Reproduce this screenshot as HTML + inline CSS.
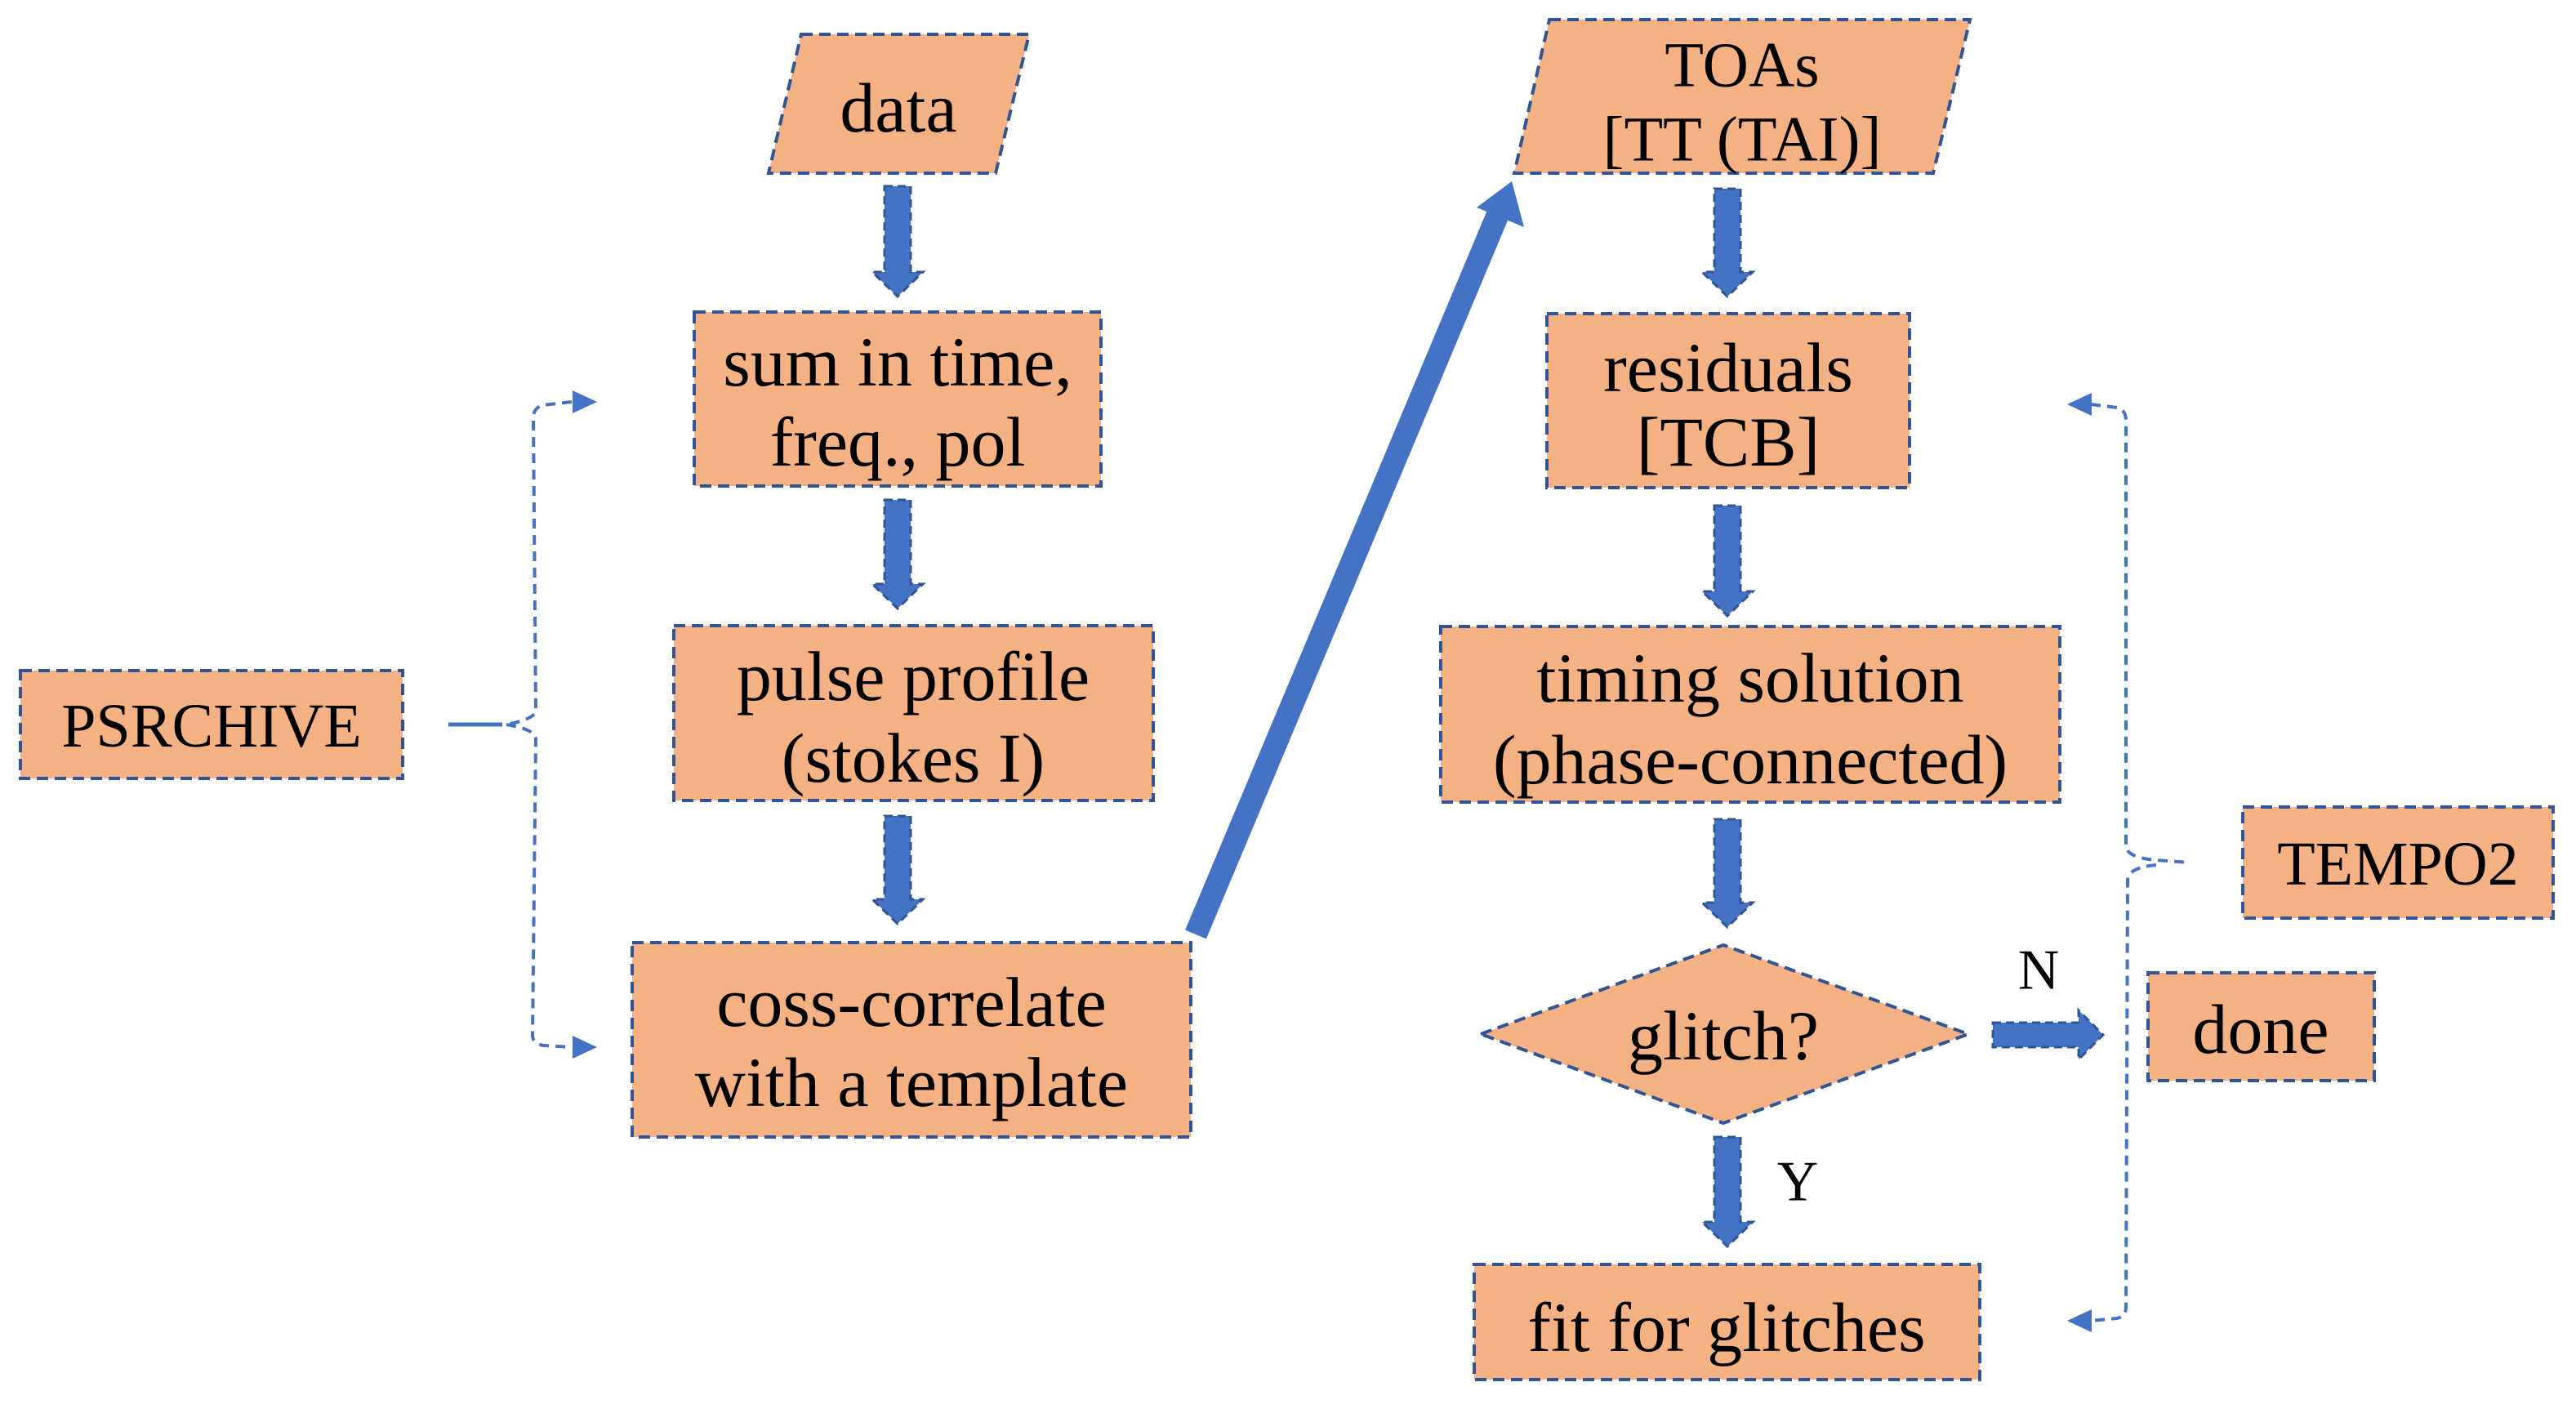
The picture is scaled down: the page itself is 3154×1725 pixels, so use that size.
<!DOCTYPE html>
<html><head><meta charset="utf-8"><style>
html,body{margin:0;padding:0;background:#fff;}
svg{display:block;}
text{font-family:"Liberation Serif","DejaVu Serif",serif;fill:#000;}
</style></head><body>
<svg width="3154" height="1725" viewBox="0 0 3154 1725" xmlns="http://www.w3.org/2000/svg">
<g fill="#F4B183" stroke="#2F5597" stroke-width="4" stroke-dasharray="14,8">
<polygon points="981,42 1260,42 1219,212 941,212"/>
<rect x="850" y="382" width="498" height="213"/>
<rect x="825" y="766" width="587" height="214"/>
<rect x="774" y="1154" width="684" height="238"/>
<rect x="25" y="821" width="468" height="132"/>
<polygon points="1897,24 2412,24 2367,212 1854,212"/>
<rect x="1894" y="384" width="444" height="213"/>
<rect x="1764" y="767" width="758" height="215"/>
<polygon points="1813,1266 2110,1157 2410,1266 2110,1375"/>
<rect x="2630" y="1191" width="277" height="132"/>
<rect x="1805" y="1548" width="619" height="141"/>
<rect x="2746" y="988" width="380" height="136"/>
</g>
<g fill="#4472C4" stroke="#2F5597" stroke-width="3" stroke-dasharray="10,6">
<polygon points="1083,228 1115,228 1115,333 1130,333 1099,363 1068,333 1083,333"/>
<polygon points="1083,612 1115,612 1115,715 1130,715 1099,745 1068,715 1083,715"/>
<polygon points="1083,999 1115,999 1115,1101 1130,1101 1099,1131 1068,1101 1083,1101"/>
<polygon points="2099,231 2131,231 2131,333 2146,333 2115,363 2084,333 2099,333"/>
<polygon points="2099,619 2131,619 2131,724 2146,724 2115,754 2084,724 2099,724"/>
<polygon points="2099,1003 2131,1003 2131,1105 2146,1105 2115,1135 2084,1105 2099,1105"/>
<polygon points="2099,1392 2131,1392 2131,1496 2146,1496 2115,1526 2084,1496 2099,1496"/>
<polygon points="2440,1252 2545,1252 2545,1237 2575,1267 2545,1297 2545,1282 2440,1282"/>
</g>
<g>
<line x1="1464" y1="1144" x2="1835" y2="260" stroke="#4472C4" stroke-width="28"/>
<polygon points="1851,222 1866,278 1808,254" fill="#4472C4"/>
</g>
<line x1="549" y1="887" x2="615" y2="887" stroke="#4472C4" stroke-width="5"/>
<g fill="none" stroke="#4472C4" stroke-width="4" stroke-dasharray="12,8">
<path d="M700,492 L665,496 Q653,499 653,512 L656,870 Q656,880 620,887"/>
<path d="M620,887 Q656,893 656,905 L652,1268 Q652,1277 665,1280 L700,1282"/>
<path d="M2560,495 L2592,499 Q2603,502 2603,515 L2603,1035 Q2603,1050 2640,1053 L2680,1056"/>
<path d="M2640,1059 Q2605,1062 2605,1078 L2603,1600 Q2603,1612 2592,1614 L2560,1617"/>
</g>
<g fill="#4472C4">
<polygon points="731,492 701,478 701,506"/>
<polygon points="731,1282 701,1268 701,1296"/>
<polygon points="2531,495 2561,481 2561,509"/>
<polygon points="2531,1617 2561,1603 2561,1631"/>
</g>
<g font-family="Liberation Serif, DejaVu Serif, serif" font-size="86" text-anchor="middle" dominant-baseline="central">
<text x="1100" y="132">data</text>
<text x="1099" y="443">sum in time,</text>
<text x="1099" y="541">freq., pol</text>
<text x="1118" y="828">pulse profile</text>
<text x="1118" y="928">(stokes I)</text>
<text x="1116" y="1227">coss-correlate</text>
<text x="1116" y="1325">with a template</text>
<text x="259" y="889" font-size="76">PSRCHIVE</text>
<text x="2133" y="79" font-size="78">TOAs</text>
<text x="2133" y="170" font-size="78">[TT (TAI)]</text>
<text x="2116" y="450">residuals</text>
<text x="2116" y="541">[TCB]</text>
<text x="2143" y="830">timing solution</text>
<text x="2143" y="930">(phase-connected)</text>
<text x="2110" y="1268">glitch?</text>
<text x="2768" y="1260">done</text>
<text x="2114" y="1625">fit for glitches</text>
<text x="2936" y="1058" font-size="76">TEMPO2</text>
<text x="2496" y="1188" font-size="70">N</text>
<text x="2201" y="1447" font-size="70">Y</text>
</g>
</svg>
</body></html>
